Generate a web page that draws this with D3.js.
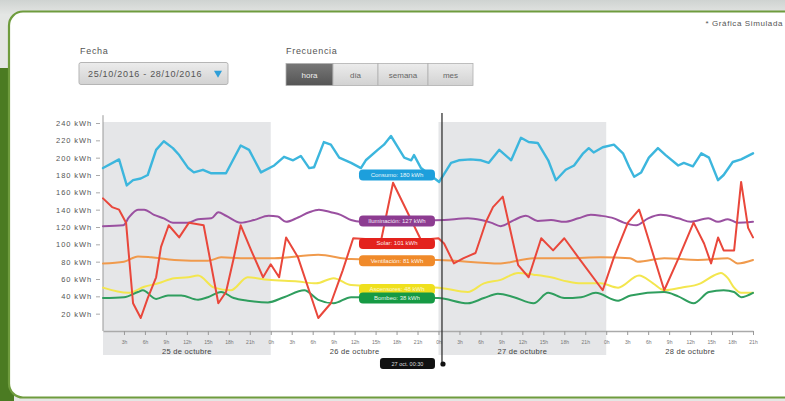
<!DOCTYPE html>
<html><head><meta charset="utf-8">
<script src="https://cdn.jsdelivr.net/npm/d3@7"></script>
<style>
body{margin:0;background:#fff;}
svg{display:block;font-family:"Liberation Sans",Arial,Helvetica,sans-serif;}
</style>
</head><body>
<svg id="c" width="785" height="401"></svg>
<script>
// ---------- DATA ----------
const consumoH = [0,2.3,3.4,4.3,5.4,6.4,7.6,8.7,10,10.9,12.2,13,14.3,15.5,17.6,19.7,20.9,22.6,24.5,25.9,27.2,28.3,29.5,30.2,31.6,32.6,33.8,35.5,36.9,37.6,39.3,40.2,41.2,42.2,43.1,44.1,44.5,45.5,48.1,49.8,50.9,52.6,54.1,55.2,56.7,58.4,59.8,60.9,62.2,63.7,64.8,66.2,67.4,68.7,69.5,70.2,71.5,73.1,74.4,75.3,76,77,78.1,79.4,80.5,82.3,83.1,84.4,85.6,86.7,88,88.8,90.1,91.3,93];
const consumoV = [188,198,168,174,176,180,209,219,211,203,188,183,186,182,182,214,209,183,191,201,197,202,188,189,218,215,200,194,188,197,209,215,225,212,200,197,203,188,172,194,197,198,197,194,209,197,223,218,217,197,174,186,191,205,211,206,212,215,205,189,178,183,200,211,203,191,194,190,205,200,174,180,195,198,205];

const iluminacionH = [0,2.9,3.7,5,5.9,7.3,8.7,10,12.2,13.6,15.5,16.5,17.6,19.7,21.6,23.7,25,26.2,27.9,29.5,30.9,32.6,34,35.5,36.9,48.8,52.2,54.1,55.5,56.9,58.8,60.5,62.2,64.1,66,68,69.8,71.2,73.1,74.5,76.3,78,79.8,82.3,84.1,86.6,88,89.4,90.8,93];
const iluminacionV = [121,122,131,140,140,134,130,125,125,129,130,137,133,125,128,133,132,126,131,137,140,137,134,128,126,128,130,128,125,121,128,133,127,128,126,130,134,133,130,125,122,130,134,130,126,130,126,129,125,126];

const solarH = [0,1.3,2.3,3.3,4.3,5.4,6.4,7.6,8.3,9.4,10.9,12.3,14.4,16.5,17.6,18.7,19.7,21.2,22.9,24,25.2,26.2,27.9,30.8,32.6,34.3,35.8,39.8,41.5,45.5,48,48.8,50.2,51.6,53.3,54.8,55.8,57.2,59.4,60.9,62.7,64.4,66,68,71.5,73.1,75.1,76.7,77.2,80.3,82.4,84.5,86,87,88,88.8,90.3,91.3,92.3,93];
const solarV = [153,143,140,125,32,15,38,62,97,122,108,125,122,32,45,84,122,93,62,77,62,108,85,15,32,70,107,105,171,105,107,101,78,84,90,126,143,155,76,62,107,93,107,85,47,85,125,140,128,47,85,125,101,78,108,93,93,172,119,108];

const ventilacionH = [0,3,5,6.9,10.2,15,16.9,19.7,24.5,30.8,35.5,48,56.9,61.6,66.5,71.2,75.4,76.5,80.3,85.1,89.4,90.8,93];
const ventilacionV = [78,80,86,85,82,81,85,84,84,88,83,82,78,84,84,85,84,80,84,82,84,78,82];

const ascensoresH = [0,3.6,5.9,7.9,10.2,12.2,13.6,15.9,18.3,20.7,23.6,27.9,30.5,33,35.5,48,52.2,54.5,56.9,59.4,61.6,64.1,66.5,68.4,71.2,73.7,76.7,78.7,80.3,82.7,85.5,87.4,88.4,89.4,90.3,91.3,93];
const ascensoresV = [50,44,51,55,61,62,64,50,47,62,59,57,55,61,53,50,45,55,59,67,65,62,57,55,55,50,64,55,47,50,55,64,67,61,50,44,44];

const bombeoH = [0,3,5,5.7,7.6,9.3,11.2,13.6,15,16.9,18.7,20.7,23.6,25.9,28.8,30.8,33,35.5,48,52.2,54.5,56.5,58.8,61.6,63.7,66,68.4,70.5,73.7,75.5,80.3,82.3,84.5,86.7,88.8,90.3,91.3,93];
const bombeoV = [38,39,45,47,37,41,41,36,39,45,38,35,33,39,47,36,32,39,38,32,38,43,39,32,44,38,39,44,35,41,45,40,32,45,47,45,39,44];

const yTicks = [20,40,60,80,100,120,140,160,180,200,220,240];
const hourTicks = [3,6,9,12,15,18,21,24,27,30,33,36,39,42,45,48,51,54,57,60,63,66,69,72,75,78,81,84,87,90,93];
const dayCenters = [12,36,60,84];
const dayLabels = ["25 de octubre","26 de octubre","27 de octubre","28 de octubre"];
const bandStarts = [0,48];
const bandEnds = [24,72];
const cursorHour = 48.5;
const cursorLabel = "27 oct. 00:30";
const tipNames = ["Consumo","Iluminación","Solar","Ventilación","Ascensores","Bombeo"];
const tipValues = [180,127,101,81,48,38];
const freqButtons = ["hora","día","semana","mes"];
const dateRange = "25/10/2016 - 28/10/2016";

// ---------- STYLE ----------
const lineColors = ["#3cb6dd","#9a50a0","#f09a4c","#f3e64e","#2f9e5e","#e9473b"];
const tipColors  = ["#1d9fdc","#8d3c91","#e3221d","#f08a2a","#efe01e","#169a44"];

const series = [
  {h:consumoH, v:consumoV, c:lineColors[0], w:2.4, curve:d3.curveLinear},
  {h:iluminacionH, v:iluminacionV, c:lineColors[1], w:2, curve:d3.curveMonotoneX},
  {h:ventilacionH, v:ventilacionV, c:lineColors[2], w:2, curve:d3.curveMonotoneX},
  {h:ascensoresH, v:ascensoresV, c:lineColors[3], w:2, curve:d3.curveMonotoneX},
  {h:bombeoH, v:bombeoV, c:lineColors[4], w:2, curve:d3.curveMonotoneX},
  {h:solarH, v:solarV, c:lineColors[5], w:2, curve:d3.curveLinear}
];

const svg = d3.select("#c");

// ---------- FRAME ----------
const defs = svg.append("defs");
const g1 = defs.append("linearGradient").attr("id","topbar").attr("x1",0).attr("x2",0).attr("y1",0).attr("y2",1);
g1.append("stop").attr("offset",0).attr("stop-color","#cfd3d1");
g1.append("stop").attr("offset",1).attr("stop-color","#e3e5e3");
const g2 = defs.append("linearGradient").attr("id","btn").attr("x1",0).attr("x2",0).attr("y1",0).attr("y2",1);
g2.append("stop").attr("offset",0).attr("stop-color","#ececec");
g2.append("stop").attr("offset",1).attr("stop-color","#d2d2d2");
const g3 = defs.append("linearGradient").attr("id","btnOn").attr("x1",0).attr("x2",0).attr("y1",0).attr("y2",1);
g3.append("stop").attr("offset",0).attr("stop-color","#777");
g3.append("stop").attr("offset",1).attr("stop-color","#555");

svg.append("rect").attr("x",0).attr("y",0).attr("width",785).attr("height",401).attr("fill","#e4e6e4");
svg.append("rect").attr("x",0).attr("y",0).attr("width",785).attr("height",14).attr("fill","url(#topbar)");
svg.append("rect").attr("x",0).attr("y",68).attr("width",14).attr("height",333).attr("fill","#4b7b22");
svg.append("rect").attr("x",9).attr("y",11.5).attr("width",800).attr("height",386).attr("rx",14)
  .attr("fill","#fff").attr("stroke","#6f9c3e").attr("stroke-width",2.2);

// ---------- CONTROLS ----------
const lbl = {fill:"#555","font-size":"9px","letter-spacing":"0.7px"};
function applyAttrs(sel,o){Object.entries(o).forEach(([k,v])=>sel.attr(k,v));return sel;}
applyAttrs(svg.append("text").attr("x",80).attr("y",54).text("Fecha"),lbl);
svg.append("rect").attr("x",79).attr("y",62.5).attr("width",149).attr("height",22).attr("rx",2)
  .attr("fill","url(#btn)").attr("stroke","#b5b5b5");
applyAttrs(svg.append("text").attr("x",88).attr("y",77).text(dateRange),lbl);
svg.append("path").attr("d",d3.symbol(d3.symbolTriangle,28)()).attr("transform","translate(218,73) rotate(180)").attr("fill","#2f9fd8");

applyAttrs(svg.append("text").attr("x",286).attr("y",54).text("Frecuencia"),lbl);
const btnX = [286,333,378,428];
const btnW = [47,45,50,45];
freqButtons.forEach((b,i)=>{
  svg.append("rect").attr("x",btnX[i]).attr("y",63.5).attr("width",btnW[i]).attr("height",22)
    .attr("fill", i===0?"url(#btnOn)":"url(#btn)").attr("stroke","#b0b0b0").attr("stroke-width",0.8);
  svg.append("text").attr("x",btnX[i]+btnW[i]/2).attr("y",78).attr("text-anchor","middle")
    .attr("font-size","8px").attr("fill", i===0?"#eee":"#666").text(b);
});
svg.append("text").attr("x",783).attr("y",26).attr("text-anchor","end").attr("font-size","8px")
  .attr("letter-spacing","0.6px").attr("fill","#555").text("* Gráfica Simulada");

// ---------- SCALES ----------
const x = d3.scaleLinear().domain([0,93]).range([103,753]);
const y = d3.scaleLinear().domain([0,240]).range([331,123]);

// bands
svg.append("g").selectAll("rect").data(bandStarts).join("rect")
  .attr("x",(d)=>x(d)).attr("width",(d,i)=>x(bandEnds[i])-x(d))
  .attr("y",122).attr("height",233).attr("fill","#e5e6e8");

// y axis
const yAxis = svg.append("g").attr("transform","translate(100,0)")
  .call(d3.axisLeft(y).tickValues(yTicks).tickFormat(d=>d+" kWh").tickSize(4).tickPadding(4));
yAxis.select(".domain").remove();
yAxis.selectAll("line").attr("stroke","#aaa");
yAxis.selectAll("text").attr("fill","#555").attr("font-size","7.5px").attr("letter-spacing","0.9px")
  .attr("font-family","Liberation Sans, Arial, sans-serif");
svg.append("line").attr("x1",103).attr("x2",103).attr("y1",y(249)).attr("y2",y(0)).attr("stroke","#999").attr("stroke-width",1);

// x axis
const xAxis = svg.append("g").attr("transform","translate(0,"+y(0)+")")
  .call(d3.axisBottom(x).tickValues(hourTicks).tickFormat(d=>(d%24)+"h").tickSize(4).tickPadding(5).tickSizeOuter(0));
xAxis.select(".domain").attr("stroke","#aaa").attr("stroke-width",1.6);
xAxis.selectAll("line").attr("stroke","#999");
xAxis.selectAll("text").attr("fill","#777").attr("font-size","5px").attr("font-family","Liberation Sans, Arial, sans-serif");
svg.append("g").selectAll("text").data(dayCenters).join("text")
  .attr("x",d=>x(d)).attr("y",354).attr("text-anchor","middle").attr("font-size","7.5px")
  .attr("letter-spacing","0.3px").attr("fill","#444").text((d,i)=>dayLabels[i]);

// lines
series.forEach(s=>{
  const pts = s.h.map((h,i)=>[h,s.v[i]]);
  svg.append("path").datum(pts)
    .attr("d", d3.line().x(d=>x(d[0])).y(d=>y(d[1])).curve(s.curve))
    .attr("fill","none").attr("stroke",s.c).attr("stroke-width",s.w)
    .attr("stroke-linejoin","round").attr("stroke-linecap","round");
});

// cursor
const cx = x(cursorHour);
svg.append("line").attr("x1",cx).attr("x2",cx).attr("y1",113).attr("y2",364).attr("stroke","#333").attr("stroke-width",1.3);
svg.append("circle").attr("cx",cx+1).attr("cy",364).attr("r",2.6).attr("fill","#111");
svg.append("rect").attr("x",cx-62).attr("y",358).attr("width",55).attr("height",11).attr("rx",3).attr("fill","#111");
svg.append("text").attr("x",cx-34.5).attr("y",365.5).attr("text-anchor","middle").attr("font-size","5.5px").attr("fill","#ddd").text(cursorLabel);

// tooltips
const tips = svg.append("g");
tipValues.forEach((v,i)=>{
  const ty = y(v);
  tips.append("rect").attr("x",cx-83).attr("y",ty-5.5).attr("width",76).attr("height",11).attr("rx",4)
    .attr("fill",tipColors[i]);
  tips.append("text").attr("x",cx-45).attr("y",ty+2).attr("text-anchor","middle").attr("font-size","6px")
    .attr("fill", i===4 ? "#fffbe0" : "#fff").attr("opacity",0.9).text(tipNames[i]+": "+v+" kWh");
});
</script>
</body></html>
